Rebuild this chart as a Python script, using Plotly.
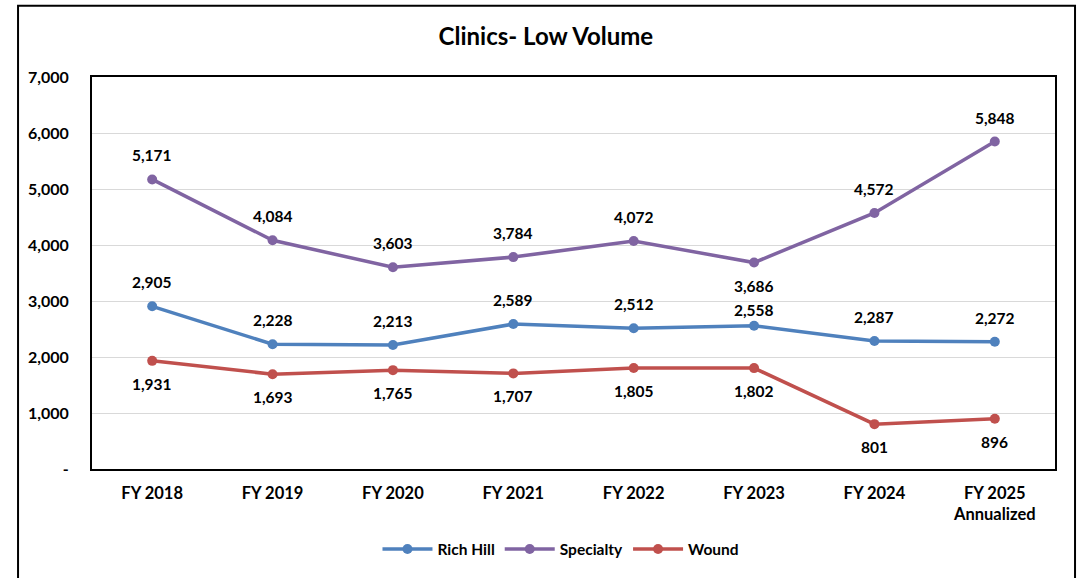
import plotly.graph_objects as go

categories = ["FY 2018", "FY 2019", "FY 2020", "FY 2021", "FY 2022", "FY 2023", "FY 2024", "FY 2025<br>Annualized"]
rich_hill = [2905, 2228, 2213, 2589, 2512, 2558, 2287, 2272]
specialty = [5171, 4084, 3603, 3784, 4072, 3686, 4572, 5848]
wound = [1931, 1693, 1765, 1707, 1805, 1802, 801, 896]

# where each point's value label sits
rich_hill_pos = ["above"] * 8
specialty_pos = ["above"] * 5 + ["below"] + ["above"] * 2
wound_pos = ["below"] * 8

y_ticks = [0, 1000, 2000, 3000, 4000, 5000, 6000, 7000]
y_tick_text = ["-", "1,000", "2,000", "3,000", "4,000", "5,000", "6,000", "7,000"]

FONT = "Lato, 'Open Sans', sans-serif"

series = [
    ("Rich Hill", rich_hill, rich_hill_pos, "#4F81BD"),
    ("Specialty", specialty, specialty_pos, "#8064A2"),
    ("Wound", wound, wound_pos, "#C0504D"),
]

fig = go.Figure()
annotations = []
for name, vals, pos, color in series:
    fig.add_trace(go.Scatter(
        x=categories, y=vals, name=name, mode="lines+markers",
        line=dict(color=color, width=3.5),
        marker=dict(color=color, size=10),
    ))
    for c, v, p in zip(categories, vals, pos):
        shift = 24 if p == "above" else -23
        # FY 2023 labels are squeezed together in the original
        if c == "FY 2023" and name == "Rich Hill":
            shift = 16
        annotations.append(dict(
            x=c, y=v, text=f"{v:,}", showarrow=False, yshift=shift,
            font=dict(family=FONT, size=15.5, color="black", weight="bold"),
        ))

# outer chart border
fig.add_shape(type="rect", xref="paper", yref="paper",
              x0=-0.0768, x1=1.0208, y0=-0.32, y1=1.182,
              line=dict(color="black", width=2), fillcolor="rgba(0,0,0,0)")

fig.update_layout(
    width=1081, height=578,
    margin=dict(l=92, r=26, t=77, b=106),
    paper_bgcolor="white", plot_bgcolor="white",
    title=dict(text="<b>Clinics- Low Volume</b>", x=0.505, xanchor="center",
               y=0.936, yanchor="middle",
               font=dict(family=FONT, size=24, color="black")),
    font=dict(family=FONT, size=15, color="black"),
    annotations=annotations,
    showlegend=True,
    legend=dict(orientation="h", x=0.487, xanchor="center", y=-0.162, yanchor="top",
                font=dict(family=FONT, size=15.5, color="black", weight="bold"),
                itemwidth=50),
    xaxis=dict(showgrid=False, showline=True, linecolor="black", linewidth=2, mirror=True,
               ticks="", ticklabelstandoff=8,
               tickfont=dict(family=FONT, size=16.5, color="black", weight="bold"),
               range=[-0.5, 7.5]),
    yaxis=dict(range=[0, 7000], tickvals=y_ticks, ticktext=y_tick_text,
               showgrid=True, gridcolor="#D9D9D9", gridwidth=1,
               showline=True, linecolor="black", linewidth=2, mirror=True,
               ticks="", ticklabelstandoff=18, zeroline=False,
               tickfont=dict(family=FONT, size=16, color="black", weight="bold")),
)

# drop the default page margin so the figure fills the window exactly
fig.write_html("out.html", config={"displayModeBar": False},
               post_script="document.body.style.margin='0';document.body.style.overflow='hidden';")
